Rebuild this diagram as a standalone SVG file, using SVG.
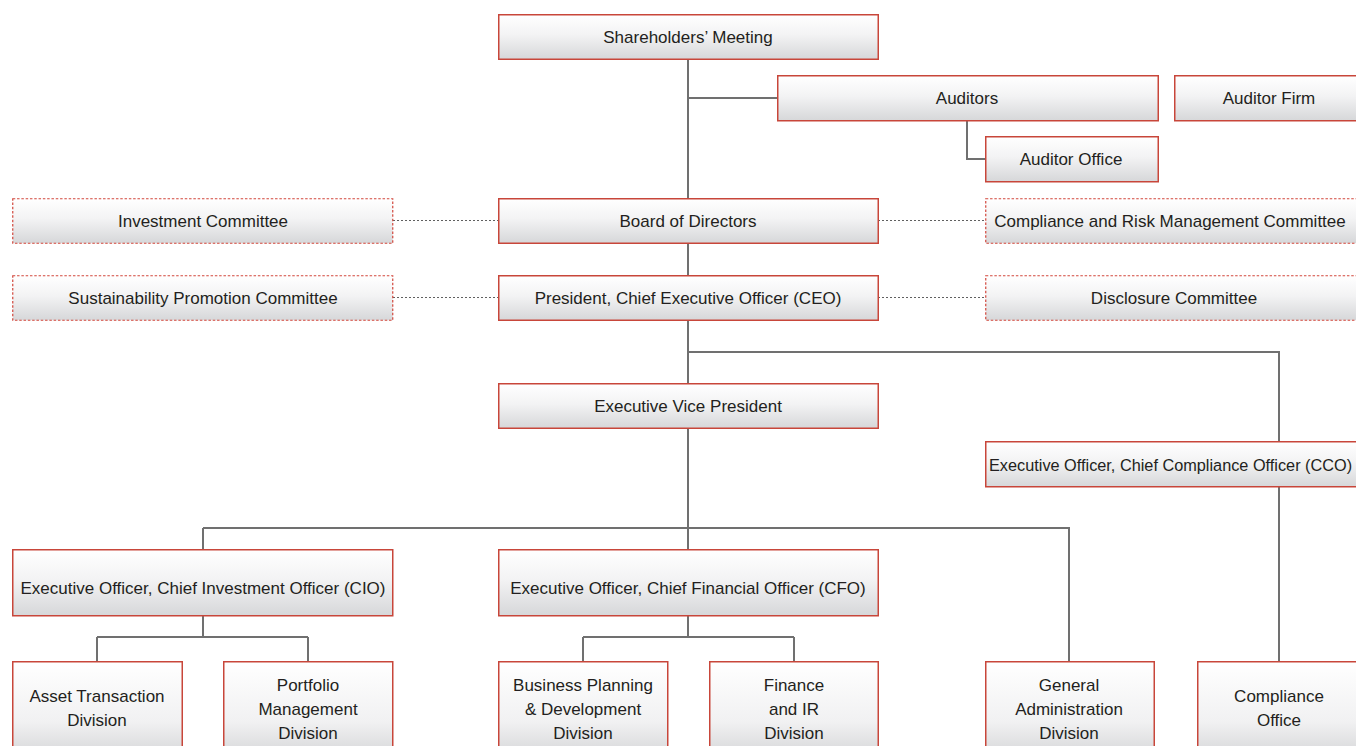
<svg xmlns="http://www.w3.org/2000/svg" width="1356" height="746" viewBox="0 0 1356 746">
<defs>
<linearGradient id="g" x1="0" y1="0" x2="0" y2="1">
<stop offset="0" stop-color="#ffffff"/>
<stop offset="0.45" stop-color="#f3f3f4"/>
<stop offset="1" stop-color="#d6d7d9"/>
</linearGradient>
<linearGradient id="gt" x1="0" y1="0" x2="0" y2="1">
<stop offset="0" stop-color="#ffffff"/>
<stop offset="0.6" stop-color="#f1f1f2"/>
<stop offset="1" stop-color="#d2d3d5"/>
</linearGradient>
</defs>
<style>
.b{fill:url(#g);stroke:#c8463a;stroke-width:1.5}
.t{fill:url(#gt);stroke:#c8463a;stroke-width:1.5}
.d{fill:url(#g);stroke:#d2473c;stroke-width:1.2;stroke-dasharray:2.5 1.8}
.c{fill:none;stroke:#707070;stroke-width:2}
.dl{fill:none;stroke:#606060;stroke-width:1.2;stroke-dasharray:2 2}
text{font-family:"Liberation Sans",Arial,sans-serif;font-size:17px;fill:#231f20;text-anchor:middle}
</style>
<rect width="1356" height="746" fill="#ffffff"/>
<g id="connectors">
<path class="c" d="M688 59V198M688 98H777M967 121V159H985M688 243V275M688 320V383M688 352H1279V441M688 428V549M203 528H1069V661M203 528V549M203 616V637M97 637H308M97 637V661M308 637V661M688 616V637M583 637H794M583 637V661M794 637V661M1279 487V661"/>
<path class="dl" d="M393 220.5H498M878 220.5H985M393 297.5H498M878 297.5H985"/>
</g>
<g id="n-shareholders"><rect class="b" x="498.75" y="14.75" width="379.5" height="44.5"/><text x="688" y="43">Shareholders’ Meeting</text></g>
<g id="n-auditors"><rect class="b" x="777.75" y="75.75" width="380.5" height="45"/><text x="967" y="104">Auditors</text></g>
<g id="n-auditorfirm"><rect class="b" x="1174.75" y="75.75" width="190" height="45"/><text x="1269" y="104">Auditor Firm</text></g>
<g id="n-auditoroffice"><rect class="b" x="985.75" y="136.75" width="172.5" height="45"/><text x="1071" y="165">Auditor Office</text></g>
<g id="n-investment"><rect class="d" x="12.75" y="198.75" width="380" height="44.5"/><text x="203" y="227">Investment Committee</text></g>
<g id="n-board"><rect class="b" x="498.75" y="198.75" width="379.5" height="44.5"/><text x="688" y="227">Board of Directors</text></g>
<g id="n-compliancerisk"><rect class="d" x="985.75" y="198.75" width="390" height="44.5"/><text x="1170" y="227">Compliance and Risk Management Committee</text></g>
<g id="n-sustainability"><rect class="d" x="12.75" y="275.75" width="380" height="44.5"/><text x="203" y="304">Sustainability Promotion Committee</text></g>
<g id="n-ceo"><rect class="b" x="498.75" y="275.75" width="379.5" height="44.5"/><text x="688" y="304">President, Chief Executive Officer (CEO)</text></g>
<g id="n-disclosure"><rect class="d" x="985.75" y="275.75" width="390" height="44.5"/><text x="1174" y="304">Disclosure Committee</text></g>
<g id="n-evp"><rect class="b" x="498.75" y="383.75" width="379.5" height="44.5"/><text x="688" y="412">Executive Vice President</text></g>
<g id="n-cco"><rect class="b" x="985.75" y="441.75" width="390" height="45"/><text x="989" y="471" style="text-anchor:start;font-size:16.3px">Executive Officer, Chief Compliance Officer (CCO)</text></g>
<g id="n-cio"><rect class="b" x="12.75" y="549.75" width="380" height="66"/><text x="203" y="594">Executive Officer, Chief Investment Officer (CIO)</text></g>
<g id="n-cfo"><rect class="b" x="498.75" y="549.75" width="379.5" height="66"/><text x="688" y="594">Executive Officer, Chief Financial Officer (CFO)</text></g>
<g id="n-asset"><rect class="t" x="12.75" y="661.75" width="169.5" height="100"/><text x="97" y="702">Asset Transaction</text><text x="97" y="726">Division</text></g>
<g id="n-portfolio"><rect class="t" x="223.75" y="661.75" width="169" height="100"/><text x="308" y="691">Portfolio</text><text x="308" y="715">Management</text><text x="308" y="739">Division</text></g>
<g id="n-bizplan"><rect class="t" x="498.75" y="661.75" width="169" height="100"/><text x="583" y="691">Business Planning</text><text x="583" y="715">&amp; Development</text><text x="583" y="739">Division</text></g>
<g id="n-finance"><rect class="t" x="709.75" y="661.75" width="168.5" height="100"/><text x="794" y="691">Finance</text><text x="794" y="715">and IR</text><text x="794" y="739">Division</text></g>
<g id="n-genadmin"><rect class="t" x="985.75" y="661.75" width="168.5" height="100"/><text x="1069" y="691">General</text><text x="1069" y="715">Administration</text><text x="1069" y="739">Division</text></g>
<g id="n-complianceoffice"><rect class="t" x="1197.75" y="661.75" width="180" height="100"/><text x="1279" y="702">Compliance</text><text x="1279" y="726">Office</text></g>
</svg>
